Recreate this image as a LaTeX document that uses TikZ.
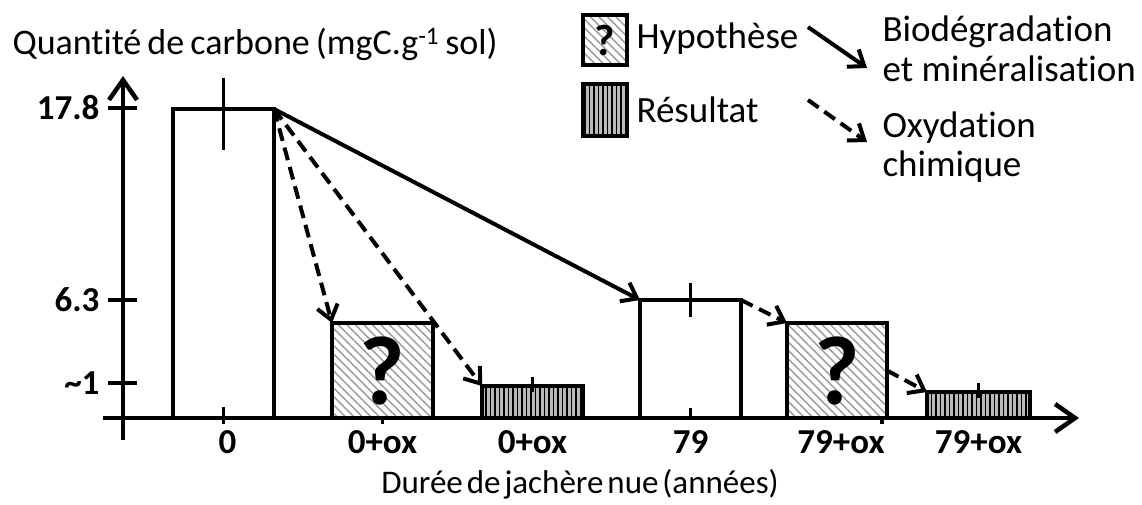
\documentclass[tikz,border=0pt]{standalone}
\usepackage{fontspec}
\setmainfont{Carlito}[Ligatures=NoCommon]
\usetikzlibrary{arrows.meta,patterns.meta}

\newcommand\serre[1]{\spaceskip=#1em\relax}

\tikzset{
  bar/.style={draw,line width=3.5pt,inner sep=0pt,outer sep=0pt,anchor=south},
  hyp/.style={bar,preaction={fill=white},pattern={Lines[angle=-45,distance=6pt,line width=1.4pt]},pattern color=gray!80,font=\bfseries\fontsize{98}{100}\selectfont},
  res/.style={bar,preaction={fill=gray!55},pattern={Lines[angle=90,distance=4.5pt,line width=1.6pt]},pattern color=black},
  valeur/.style={font=\bfseries\fontsize{35}{40}\selectfont},
  texte/.style={font=\fontsize{37}{40}\selectfont},
  axe/.style={line width=4.5pt,-{Straight Barb[length=20pt,width=28pt]}},
  fleche/.style={line width=4pt,-{Straight Barb[length=14pt,width=21pt]}},
  pointille/.style={fleche,dash pattern=on 13pt off 7pt},
  barre/.style={line width=3.5pt},
}

\begin{document}
\begin{tikzpicture}[x=1pt,y=-1pt]
\fill[white] (0,0) rectangle (1142,504);
\useasboundingbox (0,0) rectangle (1142,504);

% axes
\coordinate (ybas) at (123,440);
\coordinate (yhaut) at (123,76);
\coordinate (xgauche) at (103,418);
\coordinate (xdroite) at (1079,418);
\draw[axe] (ybas) -- (yhaut);
\draw[axe] (xgauche) -- (xdroite);
\node[texte,font=\fontsize{36}{40}\selectfont,anchor=base west] (ylab) at (9,54) {\serre{.17}Quantité de carbone (mgC.g\textsuperscript{-1} sol)};
\node[texte,font=\fontsize{33}{36}\selectfont,anchor=base] (xlab) at (580,493) {\serre{.12}Durée de jachère nue (années)};

\foreach \y/\t [count=\i] in {108/17.8,300/6.3,383/\textasciitilde1}{
  \draw[barre] (108,\y) -- (137,\y);
  \node[valeur,anchor=east] (yv\i) at (103,\y) {\t};
}

% barres
\node[bar,minimum width=101pt,minimum height=309pt] (b0) at (223.5,418) {};
\node[hyp,minimum width=101pt,minimum height=95pt] (h0) at (382.5,418) {?};
\node[res,minimum width=101pt,minimum height=32pt] (r0) at (532.5,418) {};
\node[bar,minimum width=101pt,minimum height=118pt] (b79) at (690.5,418) {};
\node[hyp,minimum width=100pt,minimum height=95pt] (h79) at (837,418) {?};
\node[res,minimum width=103pt,minimum height=26pt] (r79) at (978.5,418) {};

% barres d'erreur
\draw[barre] ([yshift=31pt]b0.north) -- ([yshift=-41pt]b0.north);
\draw[barre] ([yshift=9pt]r0.north) -- ([yshift=-6pt]r0.north);
\draw[barre] ([yshift=17pt]b79.north) -- ([yshift=-17pt]b79.north);
\draw[barre] ([yshift=9pt]r79.north) -- ([yshift=-6pt]r79.north);
\draw[barre] ([yshift=11pt]b0.south) -- ([yshift=-6pt]b0.south);
\draw[barre] ([yshift=10pt]b79.south) -- (b79.south);
\draw[barre] (h0.south) -- ([yshift=-6pt]h0.south);
\draw[barre] ([xshift=-5pt]h79.south east) -- ([xshift=-5pt,yshift=-6pt]h79.south east);

% etiquettes
\node[valeur] (l0) at ([xshift=4pt,yshift=-24pt]b0.south) {0};
\node[valeur] (lh0) at ([yshift=-24pt]h0.south) {0+ox};
\node[valeur] (lr0) at ([yshift=-24pt]r0.south) {0+ox};
\node[valeur] (l79) at ([yshift=-24pt]b79.south) {79};
\node[valeur] (lh79) at ([xshift=4pt,yshift=-24pt]h79.south) {79+ox};
\node[valeur] (lr79) at ([yshift=-24pt]r79.south) {79+ox};

% fleches
\draw[fleche] (b0.north east) -- (b79.north west);
\draw[pointille] (b0.north east) -- (h0.north west);
\draw[pointille] (b0.north east) -- (r0.north west);
\draw[pointille] (b79.north east) -- (h79.north west);
\draw[pointille] (h79.east) -- (r79.north west);

% legende
\node[hyp,anchor=center,minimum width=44pt,minimum height=50pt,font=\bfseries\fontsize{44}{46}\selectfont] (lhyp) at (605,40) {?};
\node[res,anchor=center,minimum width=44pt,minimum height=52pt] (lres) at (605,110) {};
\node[texte,anchor=base west] (thyp) at (633,48) {Hypothèse};
\node[texte,anchor=base west] (tres) at (633,122) {Résultat};
\coordinate (s1) at (808,27);
\coordinate (s2) at (867,68);
\coordinate (d1) at (808,100);
\coordinate (d2) at (867,142);
\draw[fleche] (s1) -- (s2);
\draw[pointille] (d1) -- (d2);
\node[texte,anchor=base west] (bio1) at (879,41) {Biodégradation};
\node[texte,anchor=base west] (bio2) at (879,81) {et minéralisation};
\node[texte,anchor=base west] (oxy1) at (879,137) {Oxydation};
\node[texte,anchor=base west] (oxy2) at (879,176) {chimique};
\end{tikzpicture}
\end{document}
